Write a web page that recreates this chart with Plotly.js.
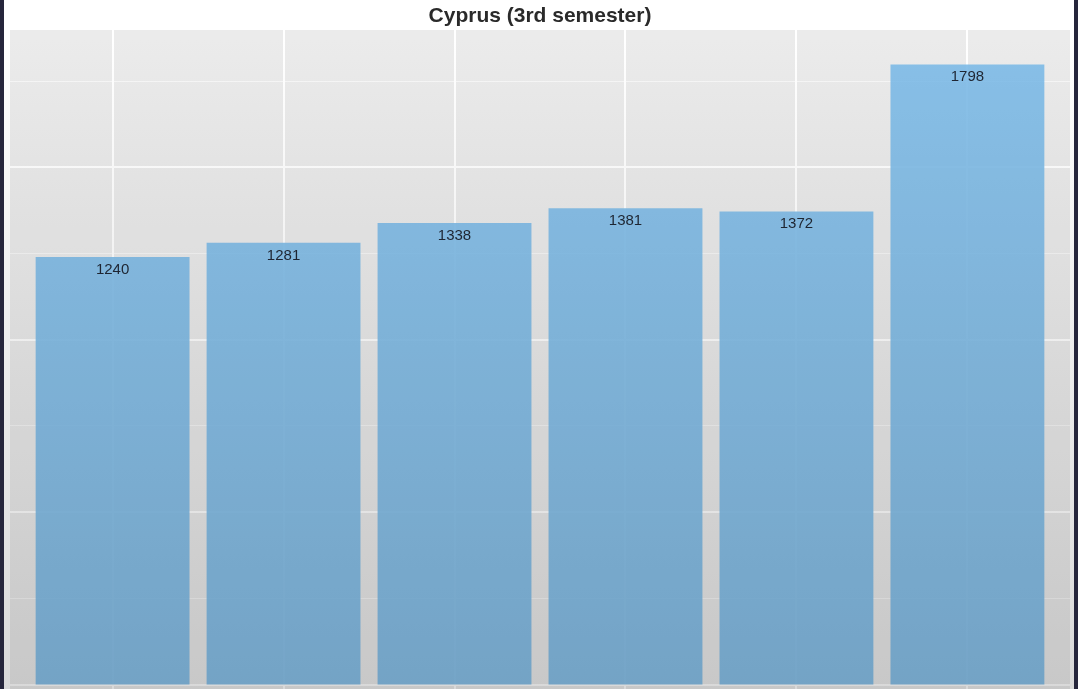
<!DOCTYPE html>
<html>
<head>
<meta charset="utf-8">
<script src="https://cdn.plot.ly/plotly-3.0.1.min.js"></script>
<style>
  html, body { margin: 0; padding: 0; background: #26263c; width: 1078px; height: 689px; overflow: hidden; }
  #wrap { position: absolute; left: 4px; top: 0; width: 1070px; height: 689px; background: #ffffff; }
  #chart { position: absolute; left: 0; top: 0; width: 1070px; height: 689px; }
  #shade { position: absolute; left: 0; top: 0; width: 1070px; height: 689px; pointer-events: none;
           background: linear-gradient(to bottom, #ffffff 0px, #ffffff 40px, #d9d9d9 689px);
           mix-blend-mode: multiply; }
</style>
</head>
<body>
<div id="wrap">
  <div id="chart"></div>
  <div id="shade"></div>
</div>
<script>
// Data
const categories = ["1", "2", "3", "4", "5", "6"];
const values = [1240, 1281, 1338, 1381, 1372, 1798];
const labels = ["1240", "1281", "1338", "1381", "1372", "1798"];
const chartTitle = "Cyprus (3rd semester)";

const trace = {
  type: "bar",
  x: categories,
  y: values,
  text: labels,
  textposition: "inside",
  insidetextanchor: "end",
  textangle: 0,
  constraintext: "none",
  textfont: { family: "Liberation Sans, Arial, sans-serif", size: 15, color: "#1f2633" },
  marker: { color: "#7dbbe8", opacity: 0.9, line: { width: 0 } },
  width: 0.9,
  hoverinfo: "x+y"
};

const layout = {
  width: 1070,
  height: 689,
  margin: { l: 6, r: 4, t: 30, b: 0 },
  paper_bgcolor: "#ffffff",
  plot_bgcolor: "#ebebeb",
  showlegend: false,
  title: {
    text: chartTitle,
    x: 0.5, xref: "paper", xanchor: "center",
    y: 15, yref: "container", yanchor: "middle",
    font: { family: "Liberation Sans, Arial, sans-serif", size: 21, color: "#2a2a2a", weight: 600 }
  },
  xaxis: {
    type: "category",
    range: [-0.6, 5.6],
    showgrid: true, gridcolor: "#ffffff", gridwidth: 2,
    showticklabels: false, ticks: "", zeroline: false, showline: false
  },
  yaxis: {
    range: [-13, 1898],
    dtick: 500, tick0: 0,
    showgrid: true, gridcolor: "#ffffff", gridwidth: 2,
    minor: { dtick: 250, tick0: 0, showgrid: true, gridcolor: "#f7f7f7", gridwidth: 1 },
    showticklabels: false, ticks: "", zeroline: false, showline: false
  },
  bargap: 0.1
};

Plotly.newPlot("chart", [trace], layout, { displayModeBar: false, staticPlot: true });
</script>
</body>
</html>
